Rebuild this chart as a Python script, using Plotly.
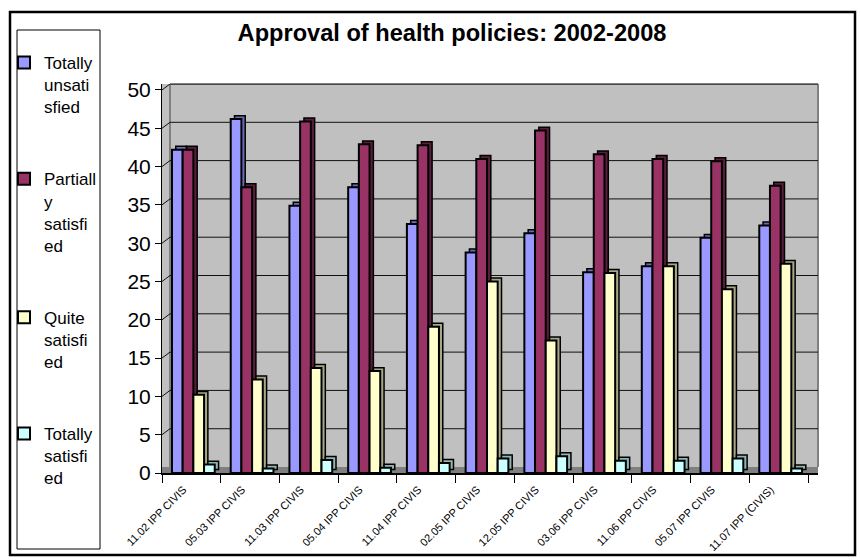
import plotly.graph_objects as go

categories = ["11.02 IPP CIVIS", "05.03 IPP CIVIS", "11.03 IPP CIVIS", "05.04 IPP CIVIS",
              "11.04 IPP CIVIS", "02.05 IPP CIVIS", "12.05 IPP CIVIS", "03.06 IPP CIVIS",
              "11.06 IPP CIVIS", "05.07 IPP CIVIS", "11.07 IPP (CIVIS)"]

totally_unsatisfied = [42.2, 46.2, 34.9, 37.3, 32.5, 28.8, 31.3, 26.2, 27.0, 30.7, 32.3]
partially_satisfied = [42.2, 37.3, 45.9, 42.9, 42.8, 41.0, 44.7, 41.6, 41.0, 40.7, 37.5]
quite_satisfied = [10.2, 12.2, 13.7, 13.3, 19.1, 25.0, 17.3, 26.1, 27.0, 24.0, 27.3]
totally_satisfied = [1.1, 0.6, 1.7, 0.7, 1.3, 1.9, 2.2, 1.6, 1.6, 1.9, 0.6]

y_tick_values = [0, 5, 10, 15, 20, 25, 30, 35, 40, 45, 50]

legend_names = ["Totally<br>unsati<br>sfied", "Partiall<br>y<br>satisfi<br>ed",
                "Quite<br>satisfi<br>ed", "Totally<br>satisfi<br>ed"]
series_values = [totally_unsatisfied, partially_satisfied, quite_satisfied, totally_satisfied]
front_colors = ["#9999FF", "#993366", "#FFFFCC", "#CCFFFF"]
side_colors = ["#6B6BB8", "#5A1E3C", "#A8A888", "#8FB5B5"]

FONT = "Liberation Sans, Arial, sans-serif"
W = 0.182
DX = 0.065
DY = 0.45
DEPTH = 0.78
YTOP = 50.78

fig = go.Figure()
for i, (nm, vals, fc, sc) in enumerate(zip(legend_names, series_values, front_colors, side_colors)):
    off = -0.33 + i * W
    fig.add_bar(x=categories, y=vals, base=DY, offset=off + DX, width=W,
                marker=dict(color=sc, line=dict(color="black", width=1.5)),
                showlegend=False, hoverinfo="skip")
    fig.add_bar(x=categories, y=vals, offset=off, width=W, name=nm, legendgroup=str(i),
                marker=dict(color=fc, line=dict(color="black", width=2)))

# plot-area pixel geometry: left 162, right 818, top 84, bottom 473
pw, ph = 656.0, 389.0
def px(xpix):
    return (xpix - 162) / pw
def py(ypix):
    return (473 - ypix) / ph

XW = px(170)
shapes = [
    dict(type="rect", xref="paper", yref="y", x0=0, x1=1, y0=0, y1=DEPTH,
         fillcolor="#808080", line=dict(width=0), layer="between"),
    dict(type="line", xref="paper", yref="y", x0=XW, x1=XW, y0=DEPTH, y1=YTOP,
         line=dict(color="#808080", width=2), layer="between"),
    dict(type="line", xref="paper", yref="paper", x0=XW, x1=1, y0=1, y1=1,
         line=dict(color="#808080", width=2), layer="between"),
    dict(type="line", xref="paper", yref="y", x0=1, x1=1, y0=DEPTH, y1=YTOP,
         line=dict(color="#808080", width=2), layer="between"),
]
# back-wall gridlines and left-wall diagonals
for v in y_tick_values[1:]:
    shapes.append(dict(type="line", xref="paper", yref="y", x0=XW, x1=1,
                       y0=v + DEPTH, y1=v + DEPTH, line=dict(color="#111111", width=1),
                       layer="between"))
    shapes.append(dict(type="line", xref="paper", yref="y", x0=0, x1=XW,
                       y0=v, y1=v + DEPTH, line=dict(color="#111111", width=1),
                       layer="between"))
shapes += [
    # legend box
    dict(type="rect", xref="paper", yref="paper", x0=px(17), x1=px(100), y0=py(549), y1=py(30),
         line=dict(color="black", width=1), fillcolor="rgba(0,0,0,0)"),
    # outer border
    dict(type="rect", xref="paper", yref="paper", x0=px(10), x1=px(855), y0=py(555), y1=py(12),
         line=dict(color="black", width=2.5), fillcolor="rgba(0,0,0,0)"),
]

fig.update_layout(
    width=861, height=560,
    margin=dict(l=162, r=43, t=84, b=87, autoexpand=False),
    paper_bgcolor="white", plot_bgcolor="#C0C0C0",
    barmode="overlay",
    font=dict(family=FONT, color="black"),
    title=dict(text="<b>Approval of health policies: 2002-2008</b>",
               x=452 / 861, xref="container", xanchor="center",
               y=1 - 33 / 560, yref="container", yanchor="middle",
               font=dict(size=23.6, family=FONT, color="black")),
    xaxis=dict(type="category", range=[-0.5, 10.67], tickangle=-45,
               tickfont=dict(size=11, family=FONT, color="black"), ticks="outside", ticklen=8,
               tickson="boundaries", tickcolor="black", tickwidth=1,
               ticklabelshift=-8, ticklabelstandoff=4,
               showline=True, linecolor="black", linewidth=2, showgrid=False,
               automargin=False),
    yaxis=dict(range=[0, YTOP], tickvals=y_tick_values, showgrid=False, zeroline=False,
               ticks="outside", ticklen=6, tickcolor="black", showline=True,
               linecolor="black", linewidth=1, automargin=False,
               tickfont=dict(size=21, family=FONT, color="black")),
    legend=dict(x=px(4), xanchor="left", y=py(45), yanchor="top",
                font=dict(size=17, family=FONT, color="black"), valign="top",
                tracegroupgap=47, bgcolor="rgba(0,0,0,0)", borderwidth=0,
                traceorder="grouped", maxheight=700),
    shapes=shapes,
    showlegend=True,
)

fig.write_html("out.html", config={"displayModeBar": False})
